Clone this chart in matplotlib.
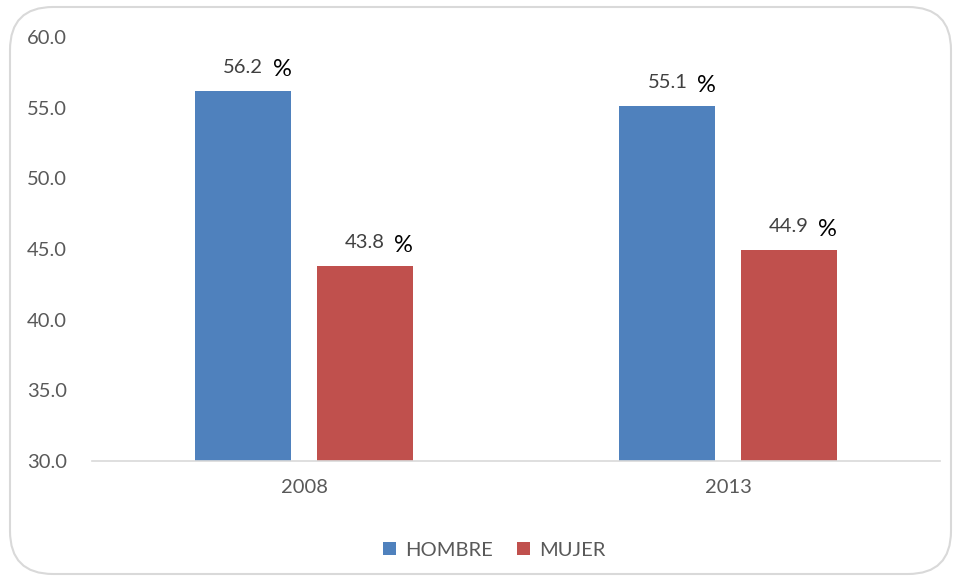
import matplotlib.pyplot as plt
from matplotlib.patches import FancyBboxPatch
import numpy as np

plt.rcParams['font.family'] = ['Lato', 'DejaVu Sans']

anios = ["2008", "2013"]
hombre = [56.2, 55.1]
mujer = [43.8, 44.9]
series = [("HOMBRE", hombre, "#4F81BD"), ("MUJER", mujer, "#C0504D")]

fig = plt.figure(figsize=(9.56, 5.82), dpi=100)
ax = fig.add_axes([92/956, 1-461/582, 848/956, 424/582])

# marco redondeado
marco = FancyBboxPatch((10/956, 8/582), 941/956, 567/582,
                       boxstyle="round,pad=0,rounding_size=0.045",
                       transform=fig.transFigure, facecolor="none",
                       edgecolor="#D9D9D9", linewidth=1.5, mutation_aspect=956/582)
fig.patches.append(marco)

x = np.arange(len(anios))
ancho = 0.226
desp = [-0.143, 0.143]
for (nombre, vals, color), d in zip(series, desp):
    barras = ax.bar(x + d, vals, ancho, bottom=0, color=color, label=nombre, zorder=2)
    for b, v in zip(barras, vals):
        cx = b.get_x() + b.get_width() / 2
        ax.annotate(f"{v:.1f}", (cx, v), xytext=(0, 17), textcoords="offset points",
                    ha="center", va="center", fontsize=14.5, color="#404040")
        ax.annotate("%", (cx, v), xytext=(28, 15), textcoords="offset points",
                    ha="center", va="center", fontsize=17, color="black")

ax.set_ylim(30, 60)
ax.set_xlim(-0.5, 1.5)
ax.set_yticks(np.arange(30, 60.1, 5))
ax.set_yticklabels([f"{t:.1f}" for t in np.arange(30, 60.1, 5)])
ax.set_xticks(x)
ax.set_xticklabels(anios)
for s in ["top", "right", "left"]:
    ax.spines[s].set_visible(False)
ax.spines["bottom"].set_color("#D9D9D9")
ax.spines["bottom"].set_linewidth(1.2)
ax.tick_params(axis="both", length=0, labelsize=14.5, labelcolor="#595959")
ax.tick_params(axis="y", pad=47)
ax.tick_params(axis="x", pad=13)
for lab in ax.get_yticklabels():
    lab.set_horizontalalignment("left")

ax.legend(loc="center", bbox_to_anchor=(0.474, -0.21), ncol=2, frameon=False,
          fontsize=14.5, labelcolor="#595959", handlelength=0.65, handleheight=0.65,
          handletextpad=0.45, columnspacing=1.2)

fig.savefig("out.png", dpi=100)
